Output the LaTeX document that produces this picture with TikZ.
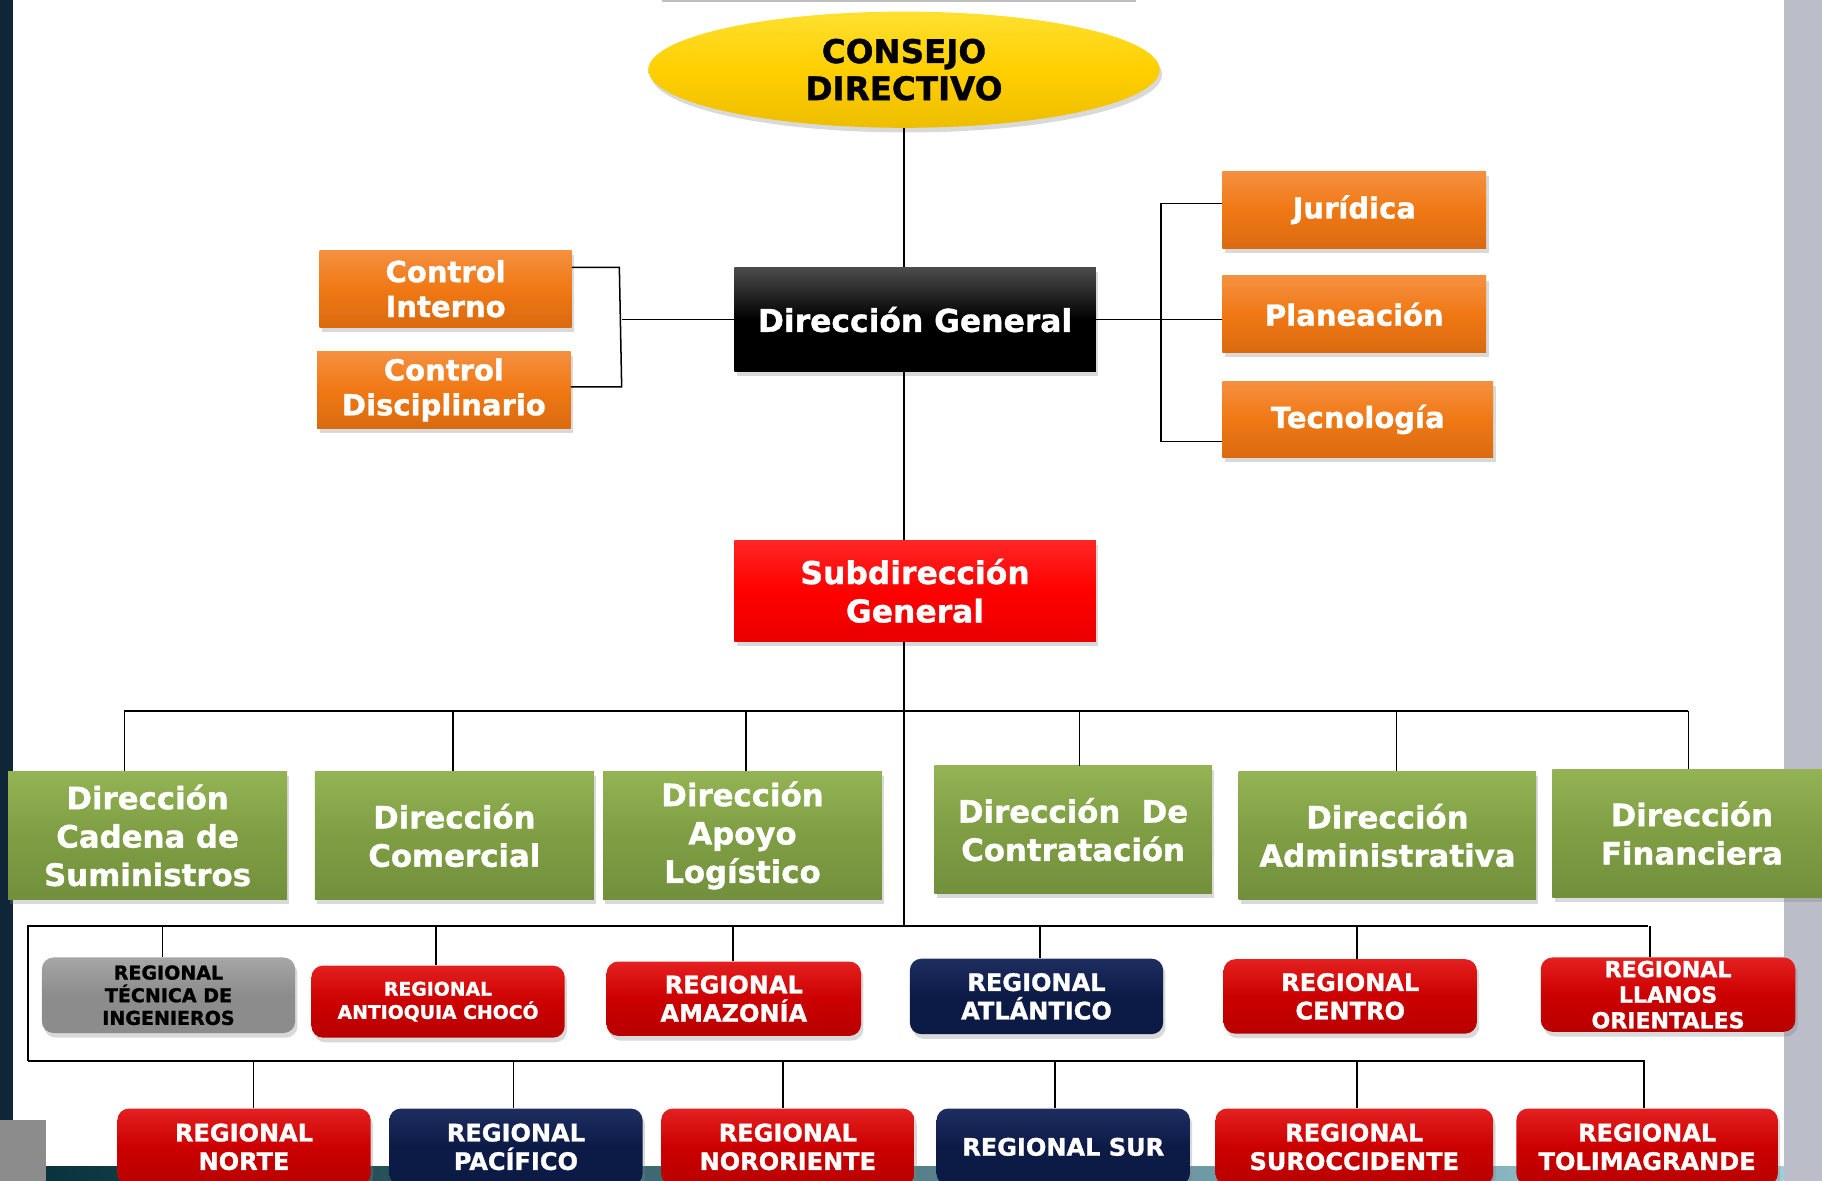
\documentclass[tikz,border=0pt]{standalone}
\usepackage{fontspec}
\setmainfont{DejaVu Sans}[BoldFeatures={FakeBold=1.2}]
\usetikzlibrary{shapes.geometric,shadows}

\definecolor{naranjaC}{HTML}{F59040}
\definecolor{naranjaM}{HTML}{F07814}
\definecolor{naranjaO}{HTML}{DA6A10}
\definecolor{verdeC}{HTML}{93B354}
\definecolor{verdeM}{HTML}{7F9E44}
\definecolor{verdeO}{HTML}{72903C}
\definecolor{rojoC}{HTML}{E42020}
\definecolor{rojoM}{HTML}{CC0000}
\definecolor{rojoO}{HTML}{B80000}
\definecolor{azulC}{HTML}{1E2E60}
\definecolor{azulM}{HTML}{0C1A46}
\definecolor{grisC}{HTML}{A6A6A6}
\definecolor{grisM}{HTML}{8C8C8C}
\definecolor{amarilloC}{HTML}{FFE030}
\definecolor{amarilloM}{HTML}{FFCF00}
\definecolor{amarilloO}{HTML}{EDBE00}
\definecolor{fondoIzq}{HTML}{0E2638}
\definecolor{fondoDer}{HTML}{BBBDC8}

\begin{document}
\begin{tikzpicture}[x=1pt,y=-1pt,
    caja/.style={rectangle, inner sep=0pt, align=center, text=white,
      drop shadow={shadow xshift=2pt,shadow yshift=-4pt,opacity=.3}},
    naranja/.style={caja, top color=naranjaC, bottom color=naranjaO, middle color=naranjaM,
      minimum height=66, font=\bfseries\fontsize{25}{30}\selectfont},
    verde/.style={caja, top color=verdeC, bottom color=verdeO, middle color=verdeM,
      minimum height=110, font=\bfseries\fontsize{26.5}{33}\selectfont},
    regional/.style={caja, rounded corners=10pt, minimum width=218, minimum height=64,
      font=\bfseries\fontsize{20.7}{24.5}\selectfont},
    rojo/.style={regional, top color=rojoC, bottom color=rojoO, middle color=rojoM},
    azul/.style={regional, top color=azulC, bottom color=azulM, middle color=azulM},
    gris/.style={regional, top color=grisC, bottom color=grisM, middle color=grisM},
    linea/.style={draw=black, line width=1.3pt},
    bus/.style={draw=black, line width=2pt}]

  \useasboundingbox (0,0) rectangle (1568,1016);

  % fondo
  \fill[fondoIzq] (0,0) rectangle (11,1016);
  \fill[fondoDer] (1535,0) rectangle (1568,1016);
  \shade[left color=fondoIzq!80!cyan!60!black, right color=azulC!60!cyan!40!white] (11,1004) rectangle (1535,1016);
  \fill[grisM] (0,964) rectangle (40,1016);
  \fill[black!25] (570,-4) rectangle (978,2);

  % nivel directivo
  \node[ellipse, minimum width=440, minimum height=100, inner sep=0pt, align=center,
    top color=amarilloC, bottom color=amarilloO, middle color=amarilloM,
    drop shadow={shadow xshift=2pt,shadow yshift=-4pt,opacity=.3},
    font=\bfseries\fontsize{28}{32}\selectfont] (cd) at (778,60) {CONSEJO\\DIRECTIVO};
  \node[caja, top color=black!70, bottom color=black, middle color=black,
    minimum width=311, minimum height=90,
    font=\bfseries\fontsize{27}{30}\selectfont] (dg) at (787.5,275) {Dirección General};

  \node[naranja, minimum width=217] (ci) at (383.5,248.5) {Control\\Interno};
  \node[naranja, minimum width=218] (cdis) at (382,335.5) {Control\\Disciplinario};
  \node[naranja, minimum width=227] (jur) at (1165.5,180.5) {Jurídica};
  \node[naranja, minimum width=227] (pla) at (1165.5,270.5) {Planeación};
  \node[naranja, minimum width=233] (tec) at (1168.5,361) {Tecnología};

  \node[caja, top color=red!85!white, bottom color=red!92!black, middle color=red,
    minimum width=311, minimum height=87,
    font=\bfseries\fontsize{27}{33}\selectfont] (sub) at (787.5,508.5) {Subdirección\\General};

  % direcciones
  \node[verde, minimum width=240] (dcs) at (127,719) {Dirección\\Cadena de\\Suministros};
  \node[verde, minimum width=240] (dco) at (391,719) {Dirección\\Comercial};
  \node[verde, minimum width=240] (dal) at (639,719) {Dirección\\Apoyo\\Logístico};
  \node[verde, minimum width=239] (dct) at (923.5,714) {Dirección~~De\\Contratación};
  \node[verde, minimum width=256] (dad) at (1194,719) {Dirección\\Administrativa};
  \node[verde, minimum width=240] (dfi) at (1456,717) {Dirección\\Financiera};

  % regionales, primera fila
  \node[gris, minimum height=65, text=black,
    font=\bfseries\fontsize{16.4}{19.5}\selectfont] (rti) at (145,856.5) {REGIONAL\\TÉCNICA DE\\INGENIEROS};
  \node[rojo, minimum height=62,
    font=\bfseries\fontsize{16.2}{20}\selectfont] (rac) at (377,862) {REGIONAL\\ANTIOQUIA CHOCÓ};
  \node[rojo, minimum width=219] (ram) at (631.5,859.5) {REGIONAL\\AMAZONÍA};
  \node[azul, minimum height=65] (rat) at (892,857.5) {REGIONAL\\ATLÁNTICO};
  \node[rojo] (rce) at (1162,857.5) {REGIONAL\\CENTRO};
  \node[rojo, minimum width=219,
    font=\bfseries\fontsize{19}{22}\selectfont] (rlo) at (1435.5,856) {REGIONAL\\LLANOS\\ORIENTALES};

  % regionales, segunda fila
  \node[rojo, minimum height=66] (rno) at (210,987) {REGIONAL\\NORTE};
  \node[azul, minimum height=66] (rpa) at (444,987) {REGIONAL\\PACÍFICO};
  \node[rojo, minimum height=66] (rnr) at (678,987) {REGIONAL\\NORORIENTE};
  \node[azul, minimum height=66] (rsu) at (915,987) {REGIONAL SUR};
  \node[rojo, minimum height=66, minimum width=239] (rso) at (1165.5,987) {REGIONAL\\SUROCCIDENTE};
  \node[rojo, minimum height=66, minimum width=225] (rtg) at (1417.5,987) {REGIONAL\\TOLIMAGRANDE};

  % conectores
  \coordinate (ct) at (533,230);
  \coordinate (cb) at (535,333);
  \coordinate (jt) at (999,175);
  \coordinate (jb) at (999,380);
  \coordinate (b2) at (778,797);

  \draw[linea] (cd.south) -- (cd.south |- dg.north);
  \draw[linea] (cd.south |- dg.south) -- (cd.south |- sub.north);
  \draw[linea] (cd.south |- sub.south) -- (b2);

  \draw[linea] (ci.east |- ct) -- (ct) -- (cb) -- (cdis.east |- cb);
  \draw[linea] (dg.west) -- (dg.west -| cb);
  \draw[linea] (jur.west |- jt) -- (jt) -- (jb) -- (tec.west |- jb);
  \draw[linea] (dg.east) -- (dg.east -| pla.west);

  \draw[linea] (107,612) -- (1453,612);
  \foreach \n/\x in {dcs/107, dco/390, dal/642, dct/929, dad/1202, dfi/1453}
    \draw[linea] (\x,612) -- (\n.north -| \x,0);

  \draw[bus] (24,913) -- (24,797) -- (1418,797);
  \foreach \n/\x in {rti/140, rac/375, ram/631, rat/895, rce/1168, rlo/1420}
    \draw[linea] (\x,797) -- (\n.north -| \x,0);

  \draw[bus] (24,913) -- (1416,913);
  \foreach \n/\x in {rno/218, rpa/442, rnr/674, rsu/908, rso/1168, rtg/1415}
    \draw[linea] (\x,913) -- (\n.north -| \x,0);

\end{tikzpicture}
\end{document}
